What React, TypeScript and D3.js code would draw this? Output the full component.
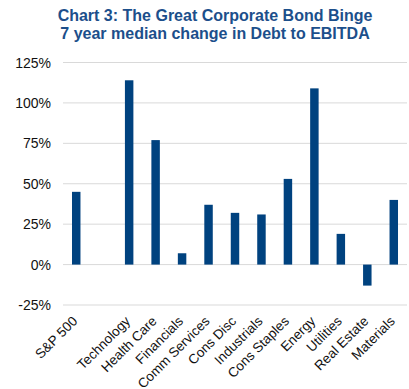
import React from "react";
import * as d3 from "d3";

const categories = ["S&P 500", "", "Technology", "Health Care", "Financials", "Comm Services", "Cons Disc", "Industrials", "Cons Staples", "Energy", "Utilities", "Real Estate", "Materials"];
const values: (number | null)[] = [45, null, 114, 77, 7, 37, 32, 31, 53, 109, 19, -13, 40];
const yTicks = [-25, 0, 25, 50, 75, 100, 125];
const titleLines = ["Chart 3: The Great Corporate Bond Binge", "7 year median change in Debt to EBITDA"];

const W = 409;
const H = 389;
const FONT = "'Liberation Sans', Arial, sans-serif";

export default function App() {
  const x = d3.scaleBand<string>().domain(categories.map((c, i) => String(i))).range([63, 407]).paddingInner(0.68).paddingOuter(0.34);
  const y = d3.scaleLinear().domain([-25, 125]).range([305, 62.5]);
  const barColor = "#00427f";
  return (
    <svg width={W} height={H} style={{ position: "absolute", left: 0, top: 0, background: "#fff" }} fontFamily={FONT}>
      {titleLines.map((t, i) => (
        <text key={i} x={215} y={20.7 + i * 18.3} textAnchor="middle" fontSize={16} fontWeight="bold" fill="#1c4f8b">{t}</text>
      ))}
      {yTicks.map((t) => (
        <g key={t}>
          <line x1={63} x2={407} y1={y(t)} y2={y(t)} stroke="#d9d9d9" strokeWidth={1} />
          <text x={51} y={y(t)} dy="0.36em" textAnchor="end" fontSize={14} fill="#111">{t}%</text>
        </g>
      ))}
      {values.map((v, i) => {
        if (v === null) return null;
        const xx = x(String(i))!;
        const y0 = y(0), y1 = y(v);
        return <rect key={i} x={xx} width={x.bandwidth()} y={Math.min(y0, y1)} height={Math.abs(y1 - y0)} fill={barColor} />;
      })}
      {categories.map((c, i) => {
        if (!c) return null;
        const cx = x(String(i))! + x.bandwidth() / 2;
        return (
          <text key={i} transform={`translate(${cx + 2},${322}) rotate(-45)`} textAnchor="end" fontSize={13.5} fill="#111">{c}</text>
        );
      })}
    </svg>
  );
}
